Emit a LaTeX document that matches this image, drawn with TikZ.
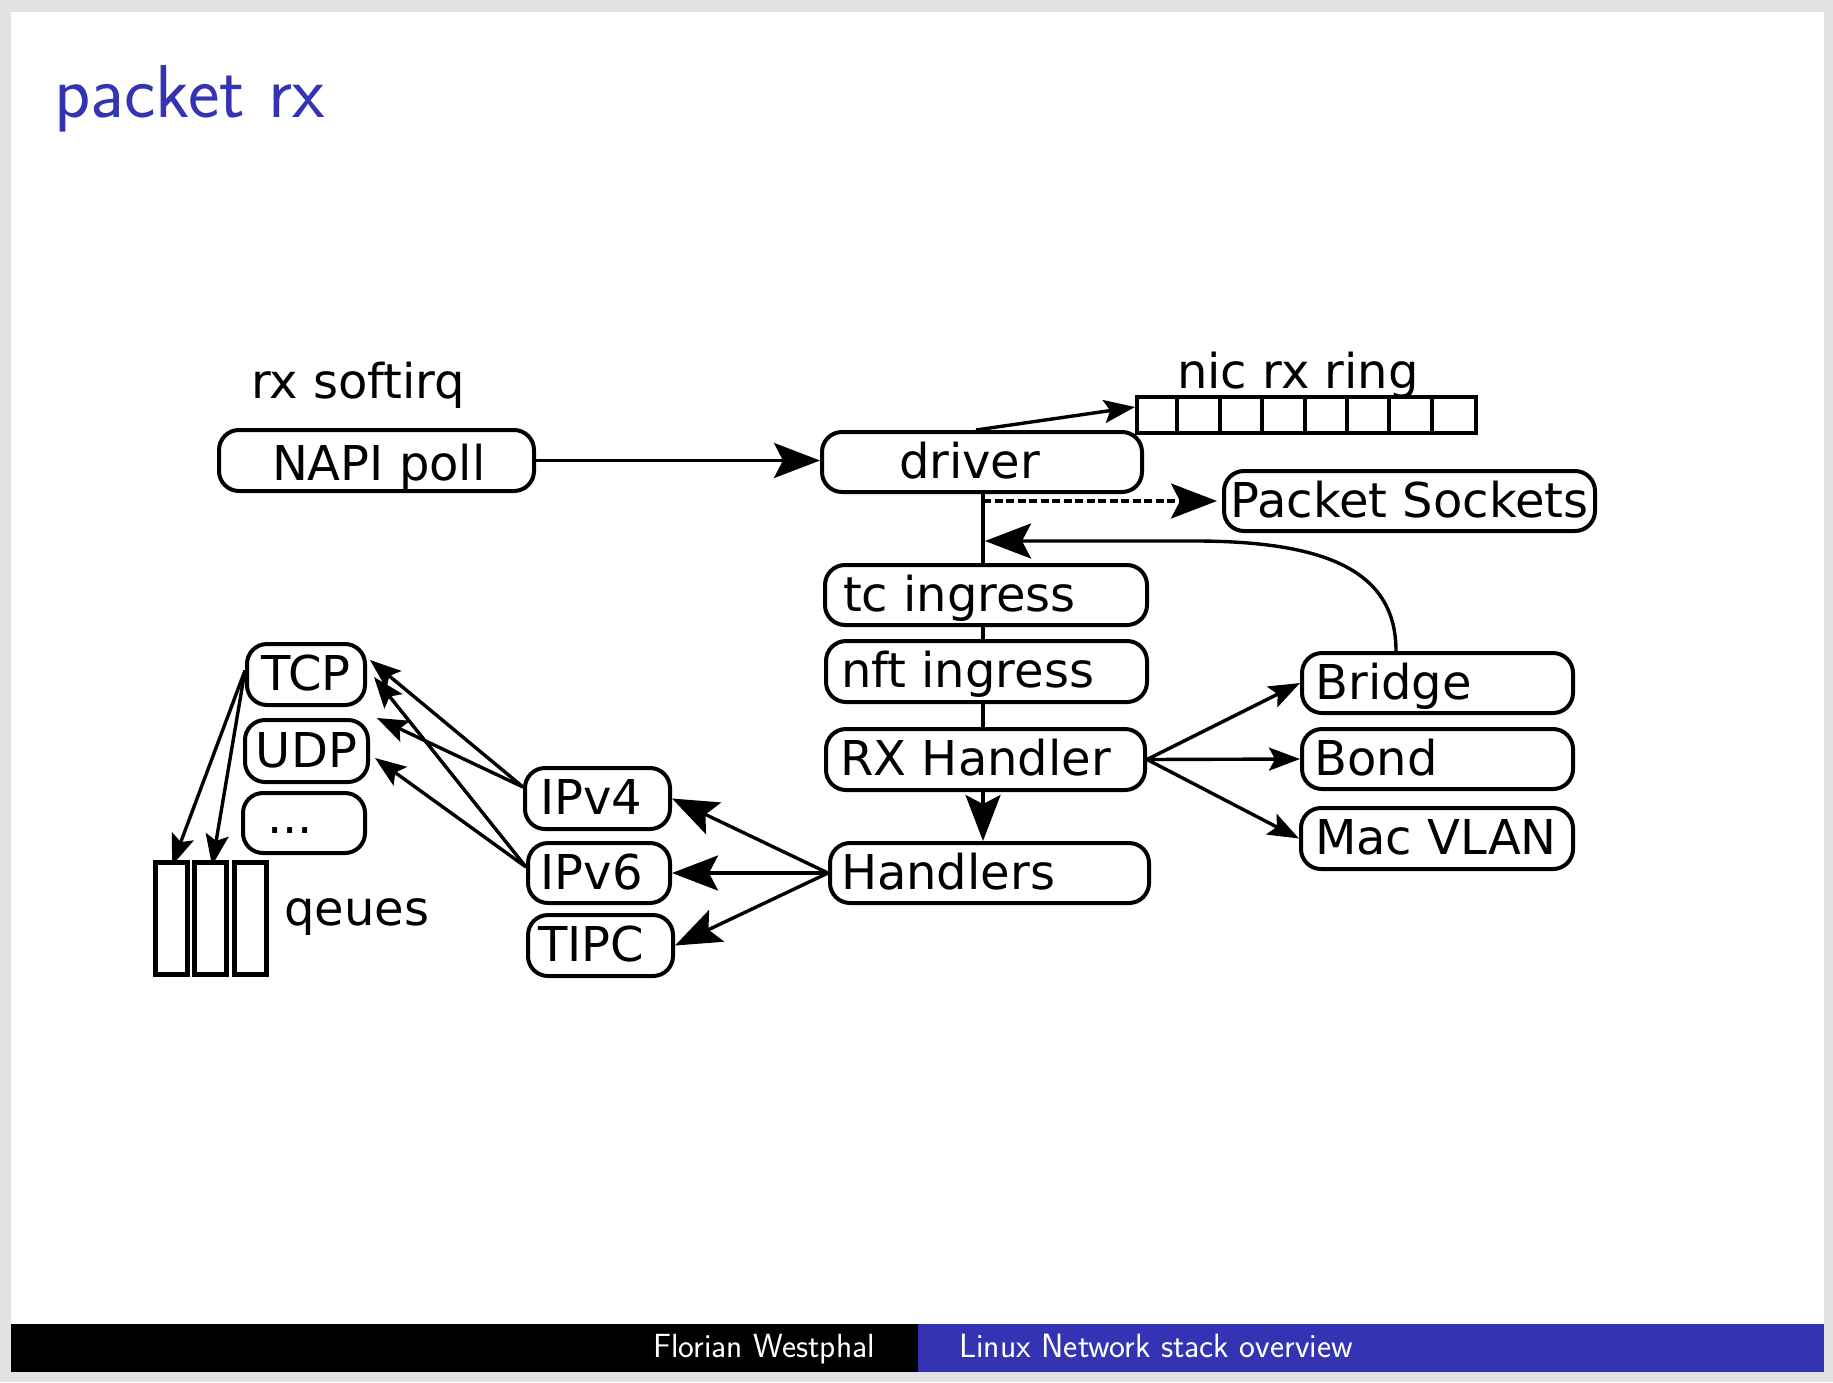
\documentclass[tikz,border=0pt]{standalone}
\usepackage{fontspec}
\usetikzlibrary{arrows.meta,calc}
\newfontfamily\diafont{DejaVu Sans}
\definecolor{beamerblue}{RGB}{51,51,179}
\definecolor{framegray}{RGB}{226,226,228}

% fixed-width, left-aligned text inside a box
\newcommand\boxtxt[2]{\makebox[#1pt][l]{#2}}

\tikzset{
  diatext/.style={font=\diafont\fontsize{48}{57}\selectfont},
  box/.style={draw, line width=4pt, rounded corners=20pt, diatext,
    text height=39.4pt, text depth=6.7pt, inner ysep=0pt},
  % left aligned box: inner padding, total width, height
  lbox/.style n args={3}{box, inner xsep=#1, minimum width=#2, minimum height=#3},
  % centred box: total width, height
  cbox/.style 2 args={box, inner xsep=0pt, minimum width=#1, minimum height=#2},
  label/.style={diatext, anchor=base west, inner sep=0pt},
  qbox/.style={draw, line width=5pt, minimum width=32pt,
    minimum height=112pt, inner sep=0pt},
  conn/.style={line width=3.4pt},
  big/.style={-{Stealth[length=46pt,width=35pt,inset=9pt]}},
  small/.style={-{Stealth[length=31pt,width=23pt,inset=6pt]}},
}

\begin{document}
\begin{tikzpicture}[x=1pt,y=-1pt]
\useasboundingbox (0,0) rectangle (1833,1382);
\fill[framegray] (0,0) rectangle (1833,1382);
\fill[white] (10.5,12) rectangle (1824,1372);

% frame title
\node[anchor=base west, inner sep=0pt, text=beamerblue,
  font=\sffamily\fontsize{75}{90}\selectfont] (title) at (54,117) {packet rx};

% footline
\fill[black] (10.5,1324) rectangle (918,1372);
\fill[beamerblue] (918,1324) rectangle (1824,1372);
\node[anchor=base east, inner sep=0pt, text=white,
  font=\sffamily\fontsize{33.5}{40}\selectfont] (author) at (875,1357) {Florian Westphal};
\node[anchor=base west, inner sep=0pt, text=white,
  font=\sffamily\fontsize{33.7}{40}\selectfont] (talk) at (959,1357) {Linux Network stack overview};

% free labels
\node[label] (softirq) at (251,398) {rx softirq};
\node[label] (ringlabel) at (1177,388) {nic rx ring};
\node[label] (qlabel) at (284,925) {qeues};

% main path
\node[lbox={53pt}{315pt}{61pt}, text depth=0pt] (napi) at (376.5,460.5) {\boxtxt{209}{NAPI poll}};
\node[lbox={77pt}{320pt}{60pt}] (driver) at (982,462) {\boxtxt{166}{driver}};
\node[cbox={371pt}{60pt}] (pkt) at (1409.5,501) {Packet Sockets};
\node[lbox={18pt}{322pt}{60pt}] (tc) at (986,595) {\boxtxt{286}{tc ingress}};
\node[lbox={15pt}{321pt}{61pt}] (nft) at (986.5,671.5) {\boxtxt{291}{nft ingress}};
\node[lbox={14.5pt}{319pt}{61pt}] (rx) at (985.5,759.5) {\boxtxt{290}{RX Handler}};
\node[lbox={11pt}{319pt}{60pt}] (handlers) at (989.5,873) {\boxtxt{297}{Handlers}};

% rx handler targets
\node[lbox={13.5pt}{271pt}{60pt}] (bridge) at (1437.5,683) {\boxtxt{244}{Bridge}};
\node[lbox={12.5pt}{271pt}{60pt}] (bond) at (1437.5,759) {\boxtxt{246}{Bond}};
\node[lbox={14pt}{272pt}{61pt}] (macvlan) at (1437,838.5) {\boxtxt{244}{Mac VLAN}};

% protocol handlers
\node[lbox={15pt}{145pt}{61pt}] (ipv4) at (597.5,798.5) {\boxtxt{115}{IPv4}};
\node[lbox={12.5pt}{142pt}{60pt}] (ipv6) at (599,873) {\boxtxt{117}{IPv6}};
\node[lbox={10pt}{145pt}{61pt}] (tipc) at (600.5,945.5) {\boxtxt{125}{TIPC}};

% transport layer
\node[cbox={118pt}{61pt}] (tcp) at (306,674.5) {TCP};
\node[cbox={123pt}{62pt}] (udp) at (306.5,751) {UDP};
\node[lbox={24pt}{122pt}{60pt}, text depth=18.2pt] (dots) at (304,823) {\boxtxt{74}{...}};

% socket queues
\node[qbox] (q1) at (171,918) {};
\node[qbox] (q2) at (210,918) {};
\node[qbox] (q3) at (250,918) {};

% nic rx ring with 8 slots
\node[draw, line width=4pt, minimum width=339pt, minimum height=36pt, inner sep=0pt] (ring) at (1306.5,415) {};
\foreach \i in {1,...,7}
  \draw[line width=4pt] ($(ring.north west)+(\i*42.375,0)$) -- ($(ring.south west)+(\i*42.375,0)$);

% connectors
\draw[conn,big] (napi.east) -- (napi.east -| driver.west);
\draw[conn,small] ($(driver.north)+(-6,0)$) -- ($(ring.west)+(0,-8)$);

\coordinate (trunk) at ($(driver.south)+(1,0)$);
\coordinate (merge) at (985,541);
\draw[conn] (trunk) -- (trunk |- tc.north);
\draw[conn] (trunk |- tc.south) -- (trunk |- nft.north);
\draw[conn] (trunk |- nft.south) -- (trunk |- rx.north);
\draw[conn,big] (trunk |- rx.south) -- (trunk |- handlers.north);
\draw[conn,big,dash pattern=on 8pt off 3.5pt,shorten >=5pt] (trunk |- pkt.west) -- (pkt.west);

\coordinate (bend) at ($(bridge.north)+(-41.5,0)$);
\draw[conn,big] (bend) .. controls ($(bend)+(0,-78)$) and (1330,542) .. (1200,541) -- (merge);

\draw[conn,small] (rx.east) -- (bridge.west);
\draw[conn,small] (rx.east) -- (bond.west);
\draw[conn,small] (rx.east) -- (macvlan.west);

\draw[conn,big] (handlers.west) -- (ipv4.east);
\draw[conn,big] (handlers.west) -- (ipv6.east);
\draw[conn,big] (handlers.west) -- (tipc.east);

\draw[conn,small] ($(ipv4.west)+(0,-11.5)$) -- ($(tcp.east)+(3,-14.5)$);
\draw[conn,small] ($(ipv4.west)+(0,-11.5)$) -- ($(udp.north east)+(7,0)$);
\draw[conn,small] ($(ipv6.west)+(0,-6)$) -- ($(tcp.east)+(7,2.5)$);
\draw[conn,small] ($(ipv6.west)+(0,-6)$) -- ($(udp.east)+(5,7)$);

\draw[conn,small] ($(tcp.west)+(0,-4)$) -- ($(q1.north)+(1,6)$);
\draw[conn,small] ($(tcp.west)+(0,-4)$) -- ($(q2.north)+(2,6)$);
\end{tikzpicture}
\end{document}
